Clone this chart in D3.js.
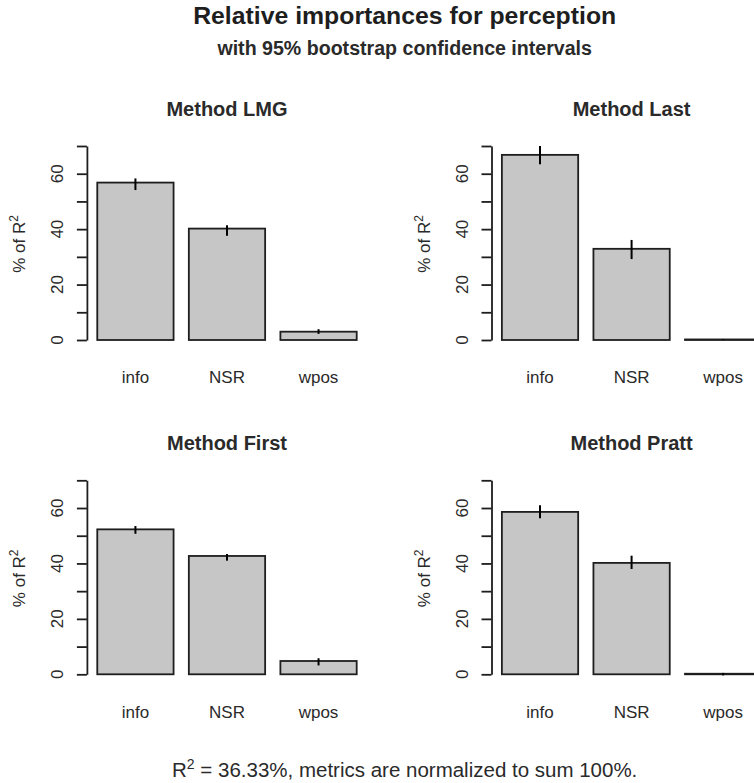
<!DOCTYPE html>
<html>
<head>
<meta charset="utf-8">
<script src="https://cdn.jsdelivr.net/npm/d3@7"></script>
<style>
  body { margin: 0; background: #fff; }
  svg { display: block; font-family: "Liberation Sans", Arial, sans-serif; }
  text { fill: #1e1e1e; }
</style>
</head>
<body>
<svg id="chart" width="754" height="783"></svg>
<script>
// regressors and the four relaimpo methods
const categories = ["info", "NSR", "wpos"];
const methods = ["LMG", "Last", "First", "Pratt"];

// percentage of R^2 per method, with bootstrap lower / upper limits
const lmgValues   = [56.8, 40.2, 3.0];
const lmgLower    = [54.1, 37.6, 2.2];
const lmgUpper    = [58.3, 41.4, 3.9];

const lastValues  = [66.8, 32.9, 0.2];
const lastLower   = [63.4, 29.2, 0.0];
const lastUpper   = [70.0, 36.1, 0.3];

const firstValues = [52.3, 42.7, 4.8];
const firstLower  = [50.7, 41.0, 3.2];
const firstUpper  = [53.5, 43.4, 5.8];

const prattValues = [58.6, 40.2, 0.2];
const prattLower  = [56.3, 38.0, -0.4];
const prattUpper  = [61.0, 42.8, 0.5];

const yTicks = [0, 10, 20, 30, 40, 50, 60, 70];
const yLabelTicks = [0, 20, 40, 60];

const panels = [
    {name: methods[0], v: lmgValues,   lo: lmgLower,   hi: lmgUpper,   col: 0, row: 0},
    {name: methods[1], v: lastValues,  lo: lastLower,  hi: lastUpper,  col: 1, row: 0},
    {name: methods[2], v: firstValues, lo: firstLower, hi: firstUpper, col: 0, row: 1},
    {name: methods[3], v: prattValues, lo: prattLower, hi: prattUpper, col: 1, row: 1}
];

const svg = d3.select("#chart");
const centreX = 404.7;

// layout of the 2x2 grid (device was wider than the picture, right side is cut)
const colLeft = [86.9, 491.5];
const rowZero = [340, 674.3];
const unitPx = 76.3;          // one bar width in px
const yPx = 194;              // px for 0..70

svg.append("text").attr("x", centreX).attr("y", 24).attr("text-anchor", "middle")
    .style("font-size", "24.8px").style("font-weight", "bold")
    .text("Relative importances for perception");
svg.append("text").attr("x", centreX).attr("y", 55).attr("text-anchor", "middle")
    .style("font-size", "19.6px").style("font-weight", "bold").style("fill", "#2a2a2a")
    .text("with 95% bootstrap confidence intervals");

const foot = svg.append("text").attr("x", centreX).attr("y", 776.5).attr("text-anchor", "middle")
    .style("font-size", "20.5px").style("fill", "#2a2a2a");
foot.append("tspan").text("R");
foot.append("tspan").attr("dy", -8).style("font-size", "14px").text("2");
foot.append("tspan").attr("dy", 8).text(" = 36.33%, metrics are normalized to sum 100%.");

for (let p of panels) {
    let left = colLeft[p.col];
    let zero = rowZero[p.row];

    // R barplot user coords: bars on [0.2,1.2],[1.4,2.4],[2.6,3.6], xlim padded by 4%
    let xu = d3.scaleLinear().domain([0.064, 3.736]).range([left, left + 3.672 * unitPx]);
    let x = d3.scaleBand().domain(categories).range([xu(0), xu(3.6)])
        .paddingInner(1 / 6).paddingOuter(1 / 12).align(1);
    let y = d3.scaleLinear().domain([0, 70]).range([zero, zero - yPx]);

    let g = svg.append("g");

    g.append("text").attr("x", (xu.range()[0] + xu.range()[1]) / 2).attr("y", zero - 224.3)
        .attr("text-anchor", "middle").style("font-size", "20px").style("font-weight", "bold")
        .style("fill", "#2a2a2a").text("Method " + p.name);

    let axis = g.append("g").attr("transform", "translate(" + left + ",0)")
        .call(d3.axisLeft(y).tickValues(yTicks).tickSize(10).tickSizeOuter(0).tickFormat(""));
    axis.selectAll("path, line").attr("stroke", "#1e1e1e").attr("stroke-width", 1.8);

    g.selectAll(".ylab").data(yLabelTicks).enter().append("text")
        .attr("transform", d => "translate(" + (left - 23.5) + "," + y(d) + ") rotate(-90)")
        .attr("text-anchor", "middle").style("font-size", "17px").style("fill", "#2a2a2a")
        .text(d => d);

    let yl = g.append("text")
        .attr("transform", "translate(" + (left - 61.5) + "," + (zero - 96) + ") rotate(-90)")
        .attr("text-anchor", "middle").style("font-size", "17px").style("fill", "#2a2a2a");
    yl.append("tspan").text("% of R");
    yl.append("tspan").attr("dy", -7).style("font-size", "12px").text("2");

    g.selectAll(".bar").data(categories).enter().append("rect")
        .attr("x", d => x(d))
        .attr("y", (d, i) => y(p.v[i]))
        .attr("width", x.bandwidth())
        .attr("height", (d, i) => Math.max(0, y(0) - y(p.v[i])))
        .attr("fill", "#c6c6c6").attr("stroke", "#1e1e1e").attr("stroke-width", 1.8);

    g.selectAll(".err").data(categories).enter().append("line")
        .attr("x1", d => x(d) + x.bandwidth() / 2).attr("x2", d => x(d) + x.bandwidth() / 2)
        .attr("y1", (d, i) => y(p.lo[i])).attr("y2", (d, i) => y(p.hi[i]))
        .attr("stroke", "#000").attr("stroke-width", 2);

    g.selectAll(".xlab").data(categories).enter().append("text")
        .attr("x", d => x(d) + x.bandwidth() / 2).attr("y", zero + 43.3)
        .attr("text-anchor", "middle").style("font-size", "17px").style("fill", "#2a2a2a")
        .text(d => d);
}
</script>
</body>
</html>
